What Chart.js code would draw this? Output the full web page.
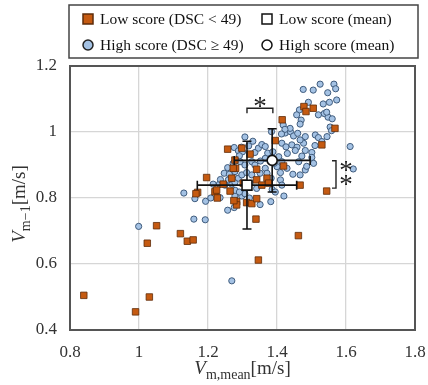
<!DOCTYPE html>
<html><head><meta charset="utf-8">
<script src="https://cdn.jsdelivr.net/npm/chart.js@4"></script>
<style>html,body{margin:0;padding:0;background:#fff}#wrap{width:428px;height:385px}</style>
</head><body><div id="wrap"><canvas id="c" width="428" height="385"></canvas></div>
<script>
// ---- data ----
const xTicks = [0.8, 1.0, 1.2, 1.4, 1.6, 1.8];
const yTicks = [0.4, 0.6, 0.8, 1.0, 1.2];
const legendLabels = ['Low score (DSC < 49)', 'Low score (mean)', 'High score (DSC \u2265 49)', 'High score (mean)'];
const xTitle = ['V', 'm,mean', '[m/s]'];
const yTitle = ['V', 'm\u22121', '[m/s]'];

const lowScore = [
 [0.840,0.505],[0.990,0.455],[1.030,0.500],[1.051,0.716],[1.024,0.663],[1.120,0.692],[1.140,0.669],[1.157,0.673],
 [1.196,0.862],[1.170,0.817],[1.220,0.819],[1.227,0.800],[1.225,0.824],[1.257,0.948],[1.280,0.890],[1.269,0.860],
 [1.264,0.821],[1.283,0.789],[1.283,0.779],[1.275,0.792],[1.312,0.786],[1.327,0.783],[1.341,0.798],[1.339,0.736],
 [1.346,0.612],[1.462,0.686],[1.544,0.821],[1.467,0.839],[1.278,0.915],[1.273,0.890],[1.341,0.887],[1.244,0.842],
 [1.302,0.845],[1.341,0.855],[1.356,0.839],[1.322,0.933],[1.298,0.951],[1.371,0.860],[1.376,0.845],[1.395,0.974],
 [1.419,0.897],[1.530,0.961],[1.568,1.011],[1.478,1.077],[1.484,1.062],[1.505,1.072],[1.415,1.037],[1.165,0.813]
];
const highScore = [
 [0.999,0.714],[1.159,0.736],[1.192,0.734],[1.269,0.549],[1.130,0.815],
 [1.162,0.798],[1.193,0.790],[1.208,0.800],[1.227,0.806],[1.235,0.801],[1.257,0.763],[1.276,0.771],[1.278,0.806],
 [1.298,0.806],[1.307,0.813],[1.320,0.800],[1.351,0.780],[1.382,0.789],[1.420,0.806],
 [1.215,0.842],[1.233,0.842],[1.249,0.839],[1.269,0.842],[1.278,0.847],[1.288,0.860],[1.236,0.856],[1.259,0.855],
 [1.279,0.823],[1.291,0.818],[1.341,0.829],
 [1.257,0.892],[1.247,0.875],[1.262,0.872],[1.278,0.880],[1.298,0.870],[1.312,0.877],[1.327,0.870],[1.351,0.875],
 [1.273,0.905],[1.293,0.910],[1.307,0.900],[1.327,0.910],[1.336,0.900],[1.276,0.953],[1.288,0.943],[1.297,0.954],
 [1.300,0.940],[1.291,0.928],[1.336,0.938],[1.346,0.951],[1.356,0.962],[1.307,0.985],[1.318,0.958],[1.330,0.972],
 [1.366,0.956],[1.373,0.936],[1.366,0.920],[1.405,0.925],[1.414,0.910],[1.400,0.895],[1.429,0.890],[1.410,0.877],
 [1.366,0.890],[1.371,0.875],[1.383,0.860],[1.410,0.855],[1.414,0.839],[1.386,0.826],[1.395,0.818],[1.322,0.845],
 [1.392,0.905],[1.388,0.940],[1.352,0.912],[1.446,0.872],
 [1.414,0.966],[1.426,0.955],[1.443,0.961],[1.458,0.954],[1.477,0.966],[1.482,0.944],[1.501,0.938],[1.453,0.944],
 [1.472,0.927],[1.501,0.923],[1.463,0.910],[1.506,0.905],[1.482,0.885],[1.467,0.870],[1.486,0.896],[1.430,0.935],
 [1.424,0.997],[1.439,1.001],[1.448,0.988],[1.460,0.996],[1.482,0.986],[1.511,0.991],[1.545,0.986],[1.520,0.983],
 [1.530,0.971],[1.510,0.959],[1.467,0.976],
 [1.418,1.021],[1.438,1.011],[1.423,1.008],[1.384,1.001],[1.413,0.994],
 [1.554,1.015],[1.558,1.004],[1.612,0.956],[1.621,0.888],
 [1.465,1.067],[1.457,1.052],[1.470,1.036],[1.467,1.024],[1.520,1.052],[1.537,1.056],[1.548,1.045],[1.560,1.040],[1.544,1.060],
 [1.476,1.129],[1.505,1.127],[1.525,1.145],[1.565,1.145],[1.570,1.131],[1.547,1.119],[1.573,1.097],[1.552,1.090],
 [1.534,1.085],[1.491,1.090]
];
const lowMean = [1.313, 0.839];
const lowSD = [0.144, 0.133];
const highMean = [1.386, 0.914];
const highSD = [0.110, 0.096];
// significance marks (data coords): top bracket between x means, right bracket between y means
const sigTop = {x1: 1.313, x2: 1.388, y: 1.072, label: '*'};
const sigRight = {x: 1.571, y1: 0.913, y2: 0.830, label: '*'};

// ---- styles ----
const ORANGE = '#c55a11', ORANGE_B = '#5e2c0a';
const BLUE = '#a4c2e4', BLUE_B = '#3f5b7c';
const SERIF = "'Liberation Serif', 'Times New Roman', serif";
const TXT = '#333333';

const toXY = a => a.map(p => ({x: p[0], y: p[1]}));
const fmt = v => String(Math.round(v * 10) / 10);

const deco = {
  id: 'deco',
  afterDatasetDraw(chart, args) {
    if (chart.data.datasets[args.index].errAfter) {
      const {ctx, scales: {x, y}} = chart;
      ctx.save();
      ctx.strokeStyle = '#111';
      ctx.lineWidth = 1.6;
      const cap = 4.5;
      [[lowMean, lowSD], [highMean, highSD]].forEach(([m, s]) => {
        const cx = x.getPixelForValue(m[0]), cy = y.getPixelForValue(m[1]);
        const xl = x.getPixelForValue(m[0] - s[0]), xr = x.getPixelForValue(m[0] + s[0]);
        const yt = y.getPixelForValue(m[1] + s[1]), yb = y.getPixelForValue(m[1] - s[1]);
        ctx.beginPath();
        ctx.moveTo(xl, cy); ctx.lineTo(xr, cy);
        ctx.moveTo(xl, cy - cap); ctx.lineTo(xl, cy + cap);
        ctx.moveTo(xr, cy - cap); ctx.lineTo(xr, cy + cap);
        ctx.moveTo(cx, yt); ctx.lineTo(cx, yb);
        ctx.moveTo(cx - cap, yt); ctx.lineTo(cx + cap, yt);
        ctx.moveTo(cx - cap, yb); ctx.lineTo(cx + cap, yb);
        ctx.stroke();
      });
      ctx.restore();
    }
  },
  afterDraw(chart) {
    const {ctx, chartArea: a, scales: {x, y}} = chart;
    ctx.save();
    // frame
    ctx.strokeStyle = '#555';
    ctx.lineWidth = 2;
    ctx.strokeRect(a.left, a.top, a.right - a.left, a.bottom - a.top);

    // significance brackets
    ctx.strokeStyle = '#222';
    ctx.lineWidth = 1.4;
    ctx.fillStyle = '#222';
    const tx1 = x.getPixelForValue(sigTop.x1), tx2 = x.getPixelForValue(sigTop.x2), ty = y.getPixelForValue(sigTop.y);
    ctx.beginPath();
    ctx.moveTo(tx1, ty + 5); ctx.lineTo(tx1, ty); ctx.lineTo(tx2, ty); ctx.lineTo(tx2, ty + 5);
    ctx.stroke();
    ctx.font = '27px ' + SERIF;
    ctx.textAlign = 'center';
    ctx.textBaseline = 'alphabetic';
    ctx.fillText(sigTop.label, (tx1 + tx2) / 2, ty + 7);
    const rx = x.getPixelForValue(sigRight.x), ry1 = y.getPixelForValue(sigRight.y1), ry2 = y.getPixelForValue(sigRight.y2);
    ctx.beginPath();
    ctx.moveTo(rx - 4, ry1); ctx.lineTo(rx, ry1); ctx.lineTo(rx, ry2); ctx.lineTo(rx - 4, ry2);
    ctx.stroke();
    ctx.fillText(sigRight.label, rx + 10, (ry1 + ry2) / 2 + 5);
    ctx.fillText(sigRight.label, rx + 10, (ry1 + ry2) / 2 + 19);

    // axis titles
    const drawMixed = (segs, cx, base) => {
      let w = 0;
      segs.forEach(s => { ctx.font = s.font; s.w = ctx.measureText(s.t).width; w += s.w; });
      let px = cx - w / 2;
      ctx.textAlign = 'left';
      ctx.textBaseline = 'alphabetic';
      segs.forEach(s => { ctx.font = s.font; ctx.fillText(s.t, px, base + s.dy); px += s.w; });
    };
    ctx.fillStyle = TXT;
    const mk = t => [
      {t: t[0], font: 'italic 19px ' + SERIF, dy: 0},
      {t: t[1], font: '14px ' + SERIF, dy: 5},
      {t: t[2], font: '19px ' + SERIF, dy: 0}
    ];
    drawMixed(mk(xTitle), (a.left + a.right) / 2, 374);
    ctx.save();
    ctx.translate(25, (a.top + a.bottom) / 2 + 6);
    ctx.rotate(-Math.PI / 2);
    drawMixed(mk(yTitle), 0, 0);
    ctx.restore();

    // legend
    const L = {l: 69, t: 5, r: 418, b: 58};
    ctx.strokeStyle = '#444';
    ctx.lineWidth = 1.5;
    ctx.strokeRect(L.l, L.t, L.r - L.l, L.b - L.t);
    const rows = [19, 45], cols = [88, 267];
    const items = [
      {lab: legendLabels[0], shape: 'sq', fill: ORANGE, stroke: ORANGE_B, c: 0, r: 0},
      {lab: legendLabels[1], shape: 'sq', fill: '#fff', stroke: '#111', c: 1, r: 0},
      {lab: legendLabels[2], shape: 'ci', fill: BLUE, stroke: '#222', c: 0, r: 1},
      {lab: legendLabels[3], shape: 'ci', fill: '#fff', stroke: '#111', c: 1, r: 1}
    ];
    items.forEach(it => {
      const mx = cols[it.c], my = rows[it.r];
      ctx.fillStyle = it.fill; ctx.strokeStyle = it.stroke; ctx.lineWidth = 1.5;
      ctx.beginPath();
      if (it.shape === 'sq') ctx.rect(mx - 5, my - 5, 10, 10);
      else ctx.arc(mx, my, 5, 0, Math.PI * 2);
      ctx.fill(); ctx.stroke();
      ctx.fillStyle = '#111';
      ctx.font = '15.5px ' + SERIF;
      ctx.textAlign = 'left';
      ctx.textBaseline = 'middle';
      ctx.fillText(it.lab, mx + 12, my + 1);
    });
    ctx.restore();
  }
};

new Chart(document.getElementById('c'), {
  type: 'scatter',
  data: {
    datasets: [
      {label: legendLabels[1], data: toXY([lowMean]), pointStyle: 'rect', pointRadius: 7, pointBackgroundColor: '#fff', pointBorderColor: '#111', pointBorderWidth: 1.6, order: 1},
      {label: legendLabels[3], data: toXY([highMean]), pointStyle: 'circle', pointRadius: 5, pointBackgroundColor: '#fff', pointBorderColor: '#111', pointBorderWidth: 1.6, order: 2},
      {label: legendLabels[0], data: toXY(lowScore), pointStyle: 'rect', pointRadius: 4.6, pointBackgroundColor: ORANGE, pointBorderColor: ORANGE_B, pointBorderWidth: 0.8, order: 3, errAfter: true},
      {label: legendLabels[2], data: toXY(highScore), pointStyle: 'circle', pointRadius: 3.1, pointBackgroundColor: BLUE, pointBorderColor: BLUE_B, pointBorderWidth: 1, order: 4}
    ]
  },
  options: {
    responsive: false,
    animation: false,
    devicePixelRatio: 1,
    layout: {padding: {top: 66, right: 13, left: 0, bottom: 0}},
    plugins: {legend: {display: false}, tooltip: {enabled: false}},
    scales: {
      x: {
        type: 'linear', min: xTicks[0], max: xTicks[xTicks.length - 1],
        afterBuildTicks: s => { s.ticks = xTicks.map(v => ({value: v})); },
        afterFit: s => { s.height = 55; s.paddingLeft = 0; s.paddingRight = 0; },
        grid: {color: '#d6d6d6', lineWidth: 1.3, drawTicks: false},
        border: {display: false},
        ticks: {callback: fmt, padding: 12, color: TXT, font: {family: SERIF, size: 17}, maxRotation: 0}
      },
      y: {
        type: 'linear', min: yTicks[0], max: yTicks[yTicks.length - 1],
        afterBuildTicks: s => { s.ticks = yTicks.map(v => ({value: v})); },
        afterFit: s => { s.width = 70; s.paddingTop = 0; s.paddingBottom = 0; },
        grid: {color: '#d6d6d6', lineWidth: 1.3, drawTicks: false},
        border: {display: false},
        ticks: {callback: fmt, padding: 13, color: TXT, font: {family: SERIF, size: 17}}
      }
    }
  },
  plugins: [deco]
});
</script>
</body></html>
